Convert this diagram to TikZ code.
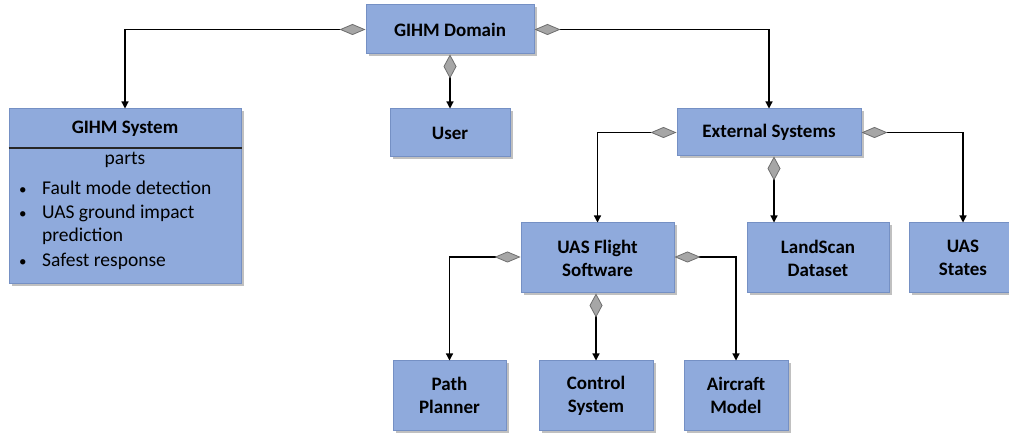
\documentclass[tikz,border=0pt]{standalone}
\usepackage{fontspec}
\setmainfont{Carlito}
\usetikzlibrary{arrows.meta,shadows}

\definecolor{boxblue}{HTML}{8FAADC}
\definecolor{boxedge}{HTML}{7590C4}
\definecolor{diafill}{HTML}{A6A6A6}
\definecolor{diaedge}{HTML}{6E6E6E}

\tikzset{
  box/.style={draw=boxedge, fill=boxblue, line width=1pt, inner sep=0pt,
    align=center, font=\fontsize{19}{23}\selectfont\bfseries,
    drop shadow={shadow xshift=2.5pt, shadow yshift=-2.5pt, fill=black!45, opacity=0.55}},
  comp/.style={line width=1.2pt, draw=black,
    {Diamond[length=26pt, width=11pt, fill=diafill, color=diaedge, line width=0.8pt]}-{Triangle[length=7pt, width=7pt]}},
  compv/.style={line width=1.2pt, draw=black,
    {Diamond[length=24pt, width=13pt, fill=diafill, color=diaedge, line width=0.8pt]}-{Triangle[length=7pt, width=7pt]}},
  listtext/.style={anchor=base west, inner sep=0pt, font=\fontsize{19.5}{24}\selectfont}
}

\begin{document}
\begin{tikzpicture}[x=1pt, y=-1pt]
  \useasboundingbox (0,0) rectangle (1009,435);
  \clip (0,0) rectangle (1009,435);

  % top level
  \node[box, minimum width=168pt, minimum height=49pt] (dom) at (450,29.5) {GIHM Domain};
  \node[box, minimum width=120pt, minimum height=48pt] (user) at (450,133) {User};
  \node[box, minimum width=184pt, minimum height=47pt] (ext) at (769,132.5) {External Systems};

  % GIHM System with its parts compartment
  \node[box, minimum width=232pt, minimum height=175pt] (sys) at (125,196.5) {};
  \node[font=\fontsize{19}{23}\selectfont\bfseries, inner sep=0pt] (systitle) at (125,129) {GIHM System};
  \draw[line width=1.4pt, black!85] (sys.west |- 0,148) -- (sys.east |- 0,148);
  \node[font=\fontsize{19.5}{24}\selectfont, inner sep=0pt] (parts) at (125,160) {parts};
  \node[listtext, font=\fontsize{15}{24}\selectfont] (b1) at (19,195) {•};
  \node[listtext] (i1) at (42,195) {Fault mode detection};
  \node[listtext, font=\fontsize{15}{24}\selectfont] (b2) at (19,219) {•};
  \node[listtext] (i2) at (42,219) {UAS ground impact};
  \node[listtext] (i2b) at (42,242) {prediction};
  \node[listtext, font=\fontsize{15}{24}\selectfont] (b3) at (19,267) {•};
  \node[listtext] (i3) at (42,267) {Safest response};

  % external systems
  \node[box, minimum width=153pt, minimum height=70pt] (fsw) at (597.5,258) {UAS Flight\\Software};
  \node[box, minimum width=142pt, minimum height=70pt] (land) at (818,258) {LandScan\\Dataset};
  \node[box, minimum width=108pt, minimum height=70pt] (states) at (963,258) {UAS\\States};

  % flight software parts
  \node[box, minimum width=113pt, minimum height=69pt] (path) at (449.5,395.5) {Path\\Planner};
  \node[box, minimum width=114pt, minimum height=69pt] (ctrl) at (596,395.5) {Control\\System};
  \node[box, minimum width=104pt, minimum height=69pt] (acm) at (736,395.5) {Aircraft\\Model};

  % composition connectors
  \draw[comp] (dom.west) -| (sys.north);
  \draw[compv] (dom.south) -- (user.north);
  \draw[comp] (dom.east) -| (ext.north);

  \draw[comp] (ext.west) -| (fsw.north);
  \draw[compv] ([xshift=5pt]ext.south) -- ([xshift=5pt]ext.south |- land.north);
  \draw[comp] (ext.east) -| (states.north);

  \draw[comp] ([yshift=1pt]fsw.west) -| (path.north);
  \draw[compv] (fsw.south -| ctrl.north) -- (ctrl.north);
  \draw[comp] ([yshift=1pt]fsw.east) -| (acm.north);
\end{tikzpicture}
\end{document}
